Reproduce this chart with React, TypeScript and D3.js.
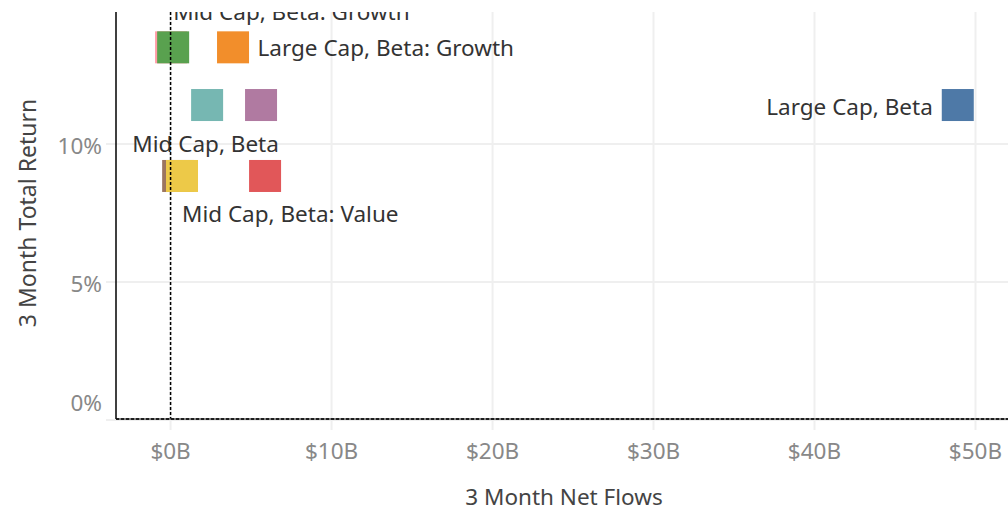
import React from "react";
import * as d3 from "d3";

const categories = [
  "Large Cap, Beta",
  "Large Cap, Beta: Growth",
  "Large Cap, Beta: Value",
  "Mid Cap, Beta",
  "Mid Cap, Beta: Growth",
  "Mid Cap, Beta: Value",
  "Small Cap, Beta",
  "Small Cap, Beta: Growth",
  "Small Cap, Beta: Value",
];
const netFlows = [48.9, 3.88, 5.87, 2.27, 0.16, 0.71, 5.62, 0.03, 0.47]; // $B
const totalReturn = [11.41, 13.5, 8.84, 11.41, 13.5, 8.84, 11.41, 13.5, 8.84]; // %
const colors = ["#4e79a7", "#f28e2b", "#e15759", "#76b7b2", "#59a14f", "#edc948", "#b07aa1", "#ff9da7", "#9c755f"];
const drawOrder = [7, 4, 1, 3, 6, 8, 5, 2, 0];
const xTicks = [0, 10, 20, 30, 40, 50];
const yTicks = [0, 5, 10];
// label placement: [category index, dx, dy, anchor]
const labelPlacement: [number, number, number, string][] = [
  [0, -25, 9.5, "end"],
  [1, 24.5, 8.5, "start"],
  [4, 0, -27, "start"],
  [3, -1.5, 47, "middle"],
  [5, 0, 46, "start"],
];

const W = 1008;
const H = 511;
const left = 116;
const right = 1008;
const top = 12;
const bottom = 419;
const font = "'Noto Sans', sans-serif";

export default function App() {
  const x = d3.scaleLinear().domain([-3.39, 52.02]).range([left, right]);
  const y = d3.scaleLinear().domain([0, 14.78]).range([bottom + 1, top]);
  const sz = 32;
  return (
    <svg width={W} height={H} style={{ position: "absolute", left: 0, top: 0, background: "#fff" }}>
      <defs>
        <clipPath id="pane">
          <rect x={left} y={top} width={right - left} height={bottom - top + 1} />
        </clipPath>
      </defs>
      {xTicks.map((t) => (
        <line key={"gx" + t} x1={x(t)} x2={x(t)} y1={top} y2={bottom + 11} stroke="#efefef" strokeWidth={2} />
      ))}
      {yTicks.map((t) => (
        <line key={"gy" + t} x1={left - 10} x2={right} y1={y(t)} y2={y(t)} stroke="#efefef" strokeWidth={2} />
      ))}
      <g clipPath="url(#pane)">
        {drawOrder.map((i) => (
          <rect key={categories[i]} x={x(netFlows[i]) - sz / 2} y={y(totalReturn[i]) - sz / 2} width={sz} height={sz} fill={colors[i]} />
        ))}
        {labelPlacement.map(([i, dx, dy, anchor]) => (
          <text key={"l" + i} x={x(netFlows[i]) + dx} y={y(totalReturn[i]) + dy} textAnchor={anchor as any} fontFamily={font} fontSize={22.5} fill="#333">
            {categories[i]}
          </text>
        ))}
      </g>
      <line x1={x(0)} x2={x(0)} y1={top} y2={bottom} stroke="#000" strokeWidth={1.5} strokeDasharray="3,2" />
      <line x1={left} x2={left} y1={top} y2={bottom} stroke="#000" strokeWidth={1.5} />
      <line x1={left} x2={right} y1={bottom} y2={bottom} stroke="#555" strokeWidth={1.5} />
      <line x1={left} x2={right} y1={bottom} y2={bottom} stroke="#000" strokeWidth={1.5} strokeDasharray="3,2" />
      {xTicks.map((t) => (
        <text key={"tx" + t} x={x(t)} y={459} textAnchor="middle" fontFamily={font} fontSize={22.5} fill="#888">
          {"$" + t + "B"}
        </text>
      ))}
      {yTicks.map((t) => (
        <text key={"ty" + t} x={102} y={Math.min(y(t) + 10, 411)} textAnchor="end" fontFamily={font} fontSize={22.5} fill="#888">
          {t + "%"}
        </text>
      ))}
      <text x={564} y={505} textAnchor="middle" fontFamily={font} fontSize={22.5} fill="#444">
        3 Month Net Flows
      </text>
      <text transform="translate(36,213) rotate(-90)" textAnchor="middle" fontFamily={font} fontSize={23} fill="#444">
        3 Month Total Return
      </text>
    </svg>
  );
}
